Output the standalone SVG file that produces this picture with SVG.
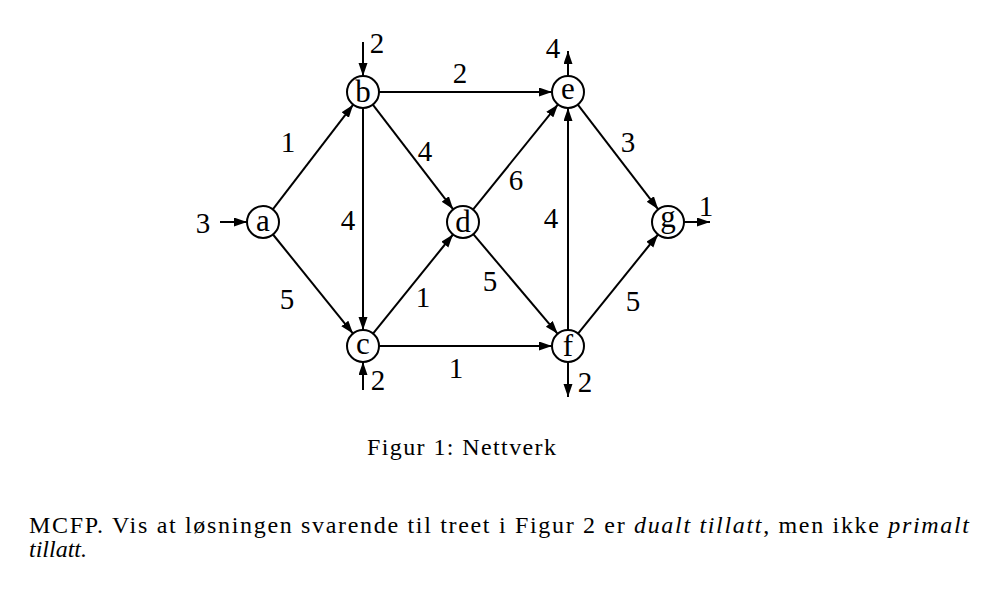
<svg xmlns="http://www.w3.org/2000/svg" width="988" height="597" viewBox="0 0 988 597">
<style>
.node circle{fill:#fff;stroke:#000;stroke-width:2}
.node text{font-family:"Liberation Serif","Times New Roman",serif;font-size:31px;text-anchor:middle;fill:#000}
.lbl{font-family:"Liberation Serif","Times New Roman",serif;font-size:29px;text-anchor:middle;fill:#000}
.edge{stroke:#000;stroke-width:2;fill:none;marker-end:url(#arr)}
.txt{font-family:"Liberation Serif","Times New Roman",serif;font-size:24px;fill:#000}
</style>
<defs>
<marker id="arr" markerUnits="userSpaceOnUse" markerWidth="14" markerHeight="10" refX="13" refY="4.5" orient="auto">
<path d="M0,0 L13,4.5 L0,9 z" fill="#000"/>
</marker>
</defs>
<rect width="988" height="597" fill="#fff"/>
<g id="connectors">
<line class="edge" x1="272.8" y1="209.3" x2="353.2" y2="104.7"/>
<line class="edge" x1="273.0" y1="234.5" x2="353.0" y2="333.6"/>
<line class="edge" x1="379" y1="92" x2="552" y2="92"/>
<line class="edge" x1="363" y1="108" x2="363" y2="330"/>
<line class="edge" x1="372.8" y1="104.7" x2="453.2" y2="209.3"/>
<line class="edge" x1="373.0" y1="333.6" x2="453.0" y2="234.5"/>
<line class="edge" x1="379" y1="346" x2="552" y2="346"/>
<line class="edge" x1="473.0" y1="209.6" x2="558.0" y2="104.4"/>
<line class="edge" x1="473.3" y1="234.2" x2="557.7" y2="333.8"/>
<line class="edge" x1="568" y1="330" x2="568" y2="108"/>
<line class="edge" x1="577.8" y1="104.7" x2="658.2" y2="209.3"/>
<line class="edge" x1="578.0" y1="333.6" x2="658.0" y2="234.5"/>
<line class="edge" x1="220" y1="222" x2="247" y2="222"/>
<line class="edge" x1="363" y1="42" x2="363" y2="76"/>
<line class="edge" x1="363" y1="390" x2="363" y2="362"/>
<line class="edge" x1="568" y1="76" x2="568" y2="51"/>
<line class="edge" x1="568" y1="362" x2="568" y2="397"/>
<line class="edge" x1="684" y1="222" x2="710" y2="222"/>
</g>
<g id="labels">
<text class="lbl" x="203" y="233">3</text>
<text class="lbl" x="377" y="53">2</text>
<text class="lbl" x="460" y="83">2</text>
<text class="lbl" x="288" y="152">1</text>
<text class="lbl" x="425" y="161">4</text>
<text class="lbl" x="348" y="230">4</text>
<text class="lbl" x="553" y="58">4</text>
<text class="lbl" x="628" y="152">3</text>
<text class="lbl" x="516" y="190">6</text>
<text class="lbl" x="551" y="228">4</text>
<text class="lbl" x="706" y="216">1</text>
<text class="lbl" x="287" y="309">5</text>
<text class="lbl" x="423" y="307">1</text>
<text class="lbl" x="456" y="378">1</text>
<text class="lbl" x="378" y="390">2</text>
<text class="lbl" x="490" y="291">5</text>
<text class="lbl" x="633" y="311">5</text>
<text class="lbl" x="585" y="392">2</text>
</g>
<g id="node-a" class="node"><circle cx="263" cy="222" r="16"/><text x="263" y="231">a</text></g>
<g id="node-b" class="node"><circle cx="363" cy="92" r="16"/><text x="363" y="102">b</text></g>
<g id="node-c" class="node"><circle cx="363" cy="346" r="16"/><text x="363" y="354">c</text></g>
<g id="node-d" class="node"><circle cx="463" cy="222" r="16"/><text x="463" y="232">d</text></g>
<g id="node-e" class="node"><circle cx="568" cy="92" r="16"/><text x="568" y="99">e</text></g>
<g id="node-f" class="node"><circle cx="568" cy="346" r="16"/><text x="568" y="356">f</text></g>
<g id="node-g" class="node"><circle cx="668" cy="222" r="16"/><text x="668" y="227">g</text></g>
<text class="txt" x="367" y="455" textLength="189" lengthAdjust="spacing">Figur 1: Nettverk</text>
<text class="txt" x="29" y="533" textLength="940" lengthAdjust="spacing">MCFP. Vis at løsningen svarende til treet i Figur 2 er <tspan font-style="italic">dualt tillatt</tspan>, men ikke <tspan font-style="italic">primalt</tspan></text>
<text class="txt" x="29" y="557" font-style="italic">tillatt.</text>
</svg>
